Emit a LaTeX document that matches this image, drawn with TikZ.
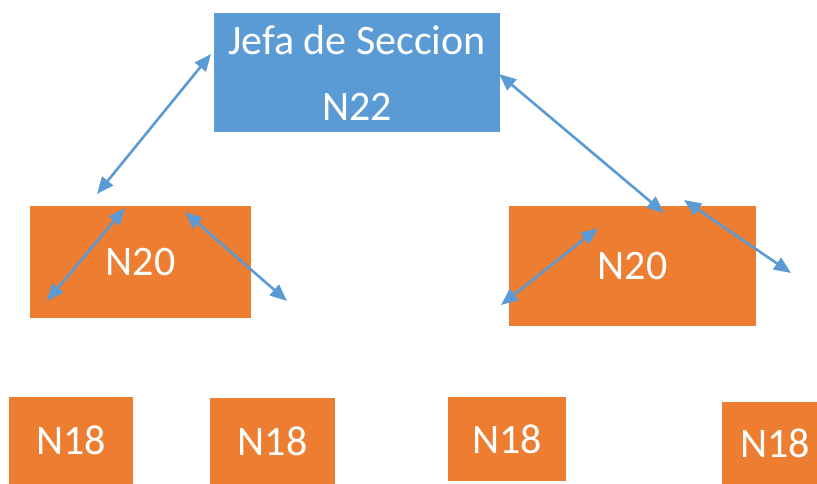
\documentclass[tikz,border=0pt]{standalone}
\usepackage{fontspec}
\setmainfont{Carlito}
\usetikzlibrary{arrows.meta}
\definecolor{jefablue}{HTML}{5B9BD5}
\definecolor{nivelorange}{HTML}{ED7D31}

\begin{document}
\begin{tikzpicture}[x=1pt,y=-1pt,
    caja/.style={anchor=north west,inner sep=0pt,outer sep=0pt,text=white,
      font=\fontsize{42}{66}\selectfont},
    nivel/.style={caja,fill=nivelorange},
    enlace/.style={{Triangle[length=17pt,width=14pt]}-{Triangle[length=17pt,width=14pt]},
      draw=jefablue,line width=2.6pt}]
					\useasboundingbox (0,0) rectangle (817,484);
					
					%JEFA
					\node[caja,fill=jefablue,minimum width=286,minimum height=119,align=center] (jefa) at (214,13) {Jefa de Seccion\\N22};
					%N20
					\node[nivel,minimum width=221,minimum height=112] (izq) at (30,206) {N20};
					\node[nivel,minimum width=247,minimum height=120] (der) at (509,206) {N20};
					%N18
					\node[nivel,minimum width=124,minimum height=87] (a) at (9,397) {N18};
					\node[nivel,minimum width=125,minimum height=86] (b) at (210,398) {N18};
					\node[nivel,minimum width=118,minimum height=84] (c) at (448,397) {N18};
					\node[nivel,minimum width=106,minimum height=82] (d) at (722,402) {N18};
					
					%PUNTAS
					\coordinate (j1) at (211,54);   \coordinate (i0) at (97,194);
					\coordinate (i1) at (125,208);  \coordinate (i2) at (47,301);
					\coordinate (i3) at (185,212);  \coordinate (i4) at (287,301);
					\coordinate (j2) at (499,74);   \coordinate (d0) at (664,213);
					\coordinate (d1) at (598,228);  \coordinate (d2) at (501,305);
					\coordinate (d3) at (684,200);  \coordinate (d4) at (791,273);
					%FLECHAS
					\draw[enlace] (j1) -- (i0);
					\draw[enlace] (i1) -- (i2);
					\draw[enlace] (i3) -- (i4);
					\draw[enlace] (j2) -- (d0);
					\draw[enlace] (d1) -- (d2);
					\draw[enlace] (d3) -- (d4);
					
				  \end{tikzpicture}
\end{document}
